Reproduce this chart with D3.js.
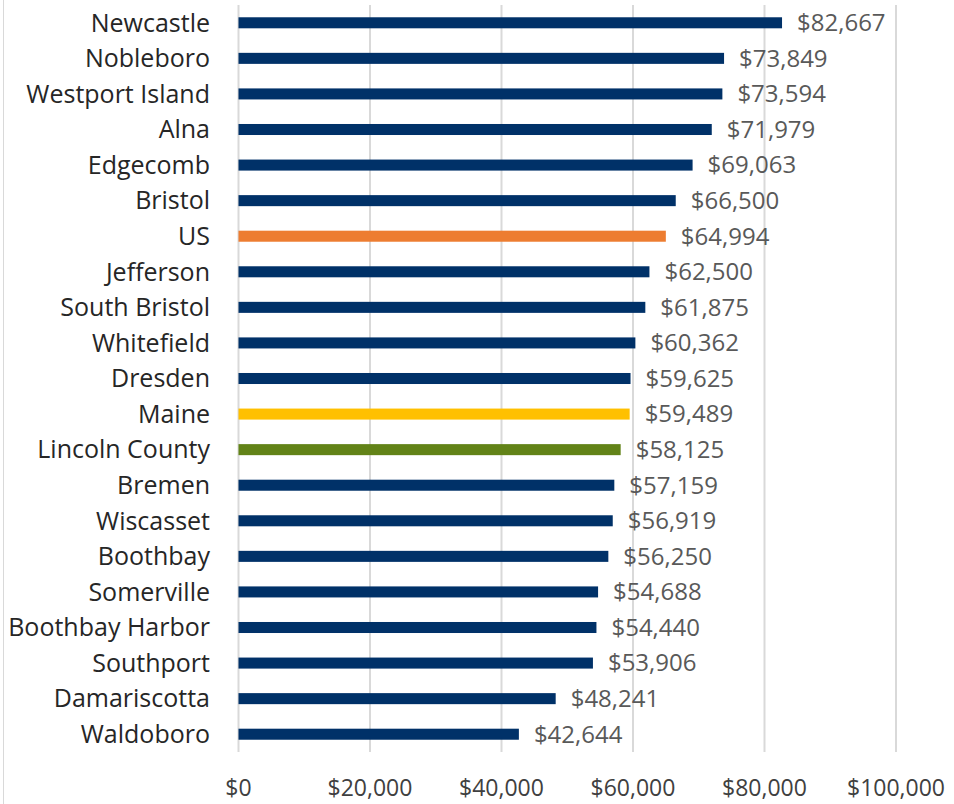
<!DOCTYPE html>
<html><head><meta charset="utf-8">
<script src="https://cdn.jsdelivr.net/npm/d3@7"></script>
<style>body{margin:0;background:#fff;}svg{display:block;}</style>
</head><body>
<script>
const categories = ["Newcastle","Nobleboro","Westport Island","Alna","Edgecomb","Bristol","US","Jefferson","South Bristol","Whitefield","Dresden","Maine","Lincoln County","Bremen","Wiscasset","Boothbay","Somerville","Boothbay Harbor","Southport","Damariscotta","Waldoboro"];
const values = [82667,73849,73594,71979,69063,66500,64994,62500,61875,60362,59625,59489,58125,57159,56919,56250,54688,54440,53906,48241,42644];
const tickValues = [0,20000,40000,60000,80000,100000];
const highlight = {"US":"#ED7D31","Maine":"#FFC000","Lincoln County":"#628318"};
const baseColor = "#003168";

const W=954,H=804;
const svg=d3.select("body").append("svg").attr("width",W).attr("height",H);
const font="'Open Sans', sans-serif";
svg.append("line").attr("x1",3.5).attr("x2",3.5).attr("y1",0).attr("y2",H).attr("stroke","#d9d9d9").attr("stroke-width",1);

const x=d3.scaleLinear().domain([0,100000]).range([238.5,896]);
const y=d3.scaleBand().domain(categories).range([5,752]).paddingInner(0.69).paddingOuter(0.345);

svg.append("g").selectAll("line").data(tickValues).join("line")
 .attr("x1",d=>x(d)).attr("x2",d=>x(d)).attr("y1",5).attr("y2",752)
 .attr("stroke","#d9d9d9").attr("stroke-width",2);

svg.append("g").selectAll("rect").data(categories).join("rect")
 .attr("x",x(0)).attr("y",d=>y(d)).attr("height",y.bandwidth())
 .attr("width",(d,i)=>x(values[i])-x(0))
 .attr("fill",d=>highlight[d]||baseColor);

const fmt=d3.format("$,");
svg.append("g").selectAll("text").data(categories).join("text")
 .attr("x",(d,i)=>x(values[i])+15).attr("y",d=>y(d)+y.bandwidth()/2).attr("dy","0.35em")
 .attr("font-family",font).attr("font-size",24).attr("fill","#595959")
 .text((d,i)=>fmt(values[i]));

svg.append("g").selectAll("text").data(categories).join("text")
 .attr("x",210).attr("y",d=>y(d)+y.bandwidth()/2).attr("dy","0.35em")
 .attr("text-anchor","end")
 .attr("font-family",font).attr("font-size",25).attr("fill","#262626")
 .text(d=>d);

svg.append("g").selectAll("text").data(tickValues).join("text")
 .attr("x",d=>x(d)).attr("y",788).attr("dy","0.35em").attr("text-anchor","middle")
 .attr("font-family",font).attr("font-size",23).attr("fill","#404040")
 .text(d=>fmt(d));
</script>
</body></html>
